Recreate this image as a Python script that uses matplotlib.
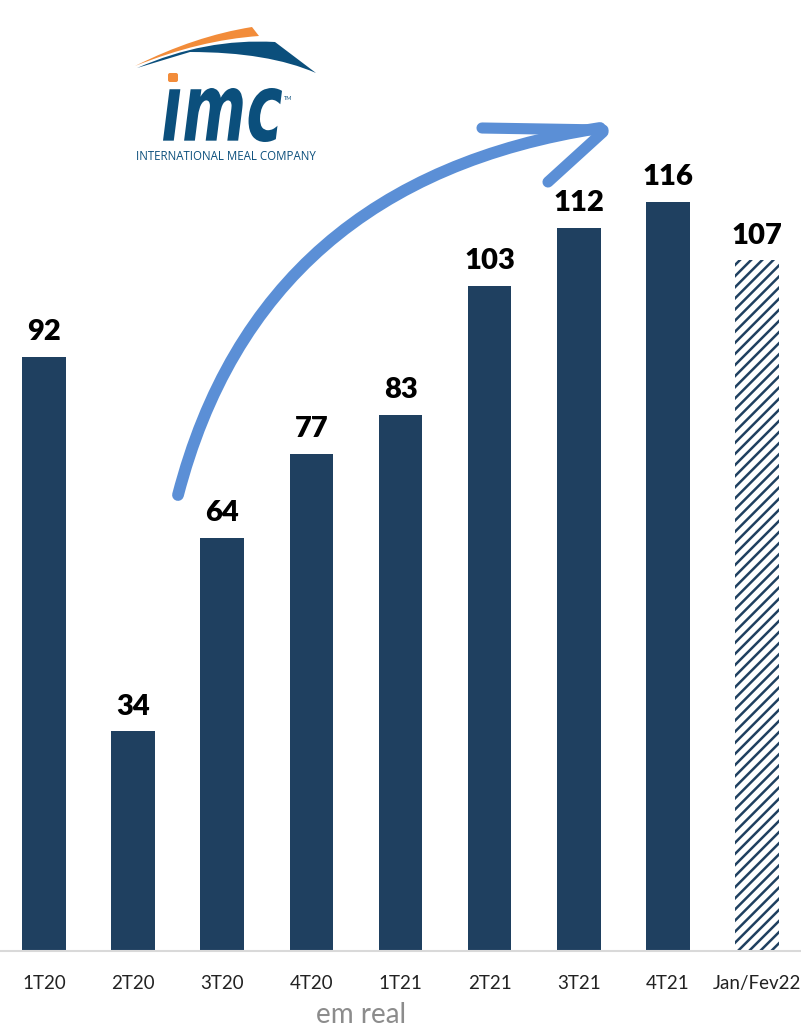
import matplotlib.pyplot as plt
import numpy as np
from matplotlib.path import Path
from matplotlib.patches import PathPatch, FancyBboxPatch
from matplotlib.textpath import TextPath
from matplotlib.font_manager import FontProperties
from matplotlib.transforms import Affine2D

# data
categories = ['1T20', '2T20', '3T20', '4T20', '1T21', '2T21', '3T21', '4T21', 'Jan/Fev22']
values = [92, 34, 64, 77, 83, 103, 112, 116, 107]
hatched = [False] * 8 + [True]

navy = '#1F4060'
plt.rcParams['font.family'] = ['Lato', 'DejaVu Sans']
plt.rcParams['hatch.linewidth'] = 1.8

fig = plt.figure(figsize=(8.01, 10.29), dpi=100)
ax = fig.add_axes([0, 78 / 1029, 1, 951 / 1029])   # bar area, baseline at y=951px

x = np.arange(len(categories))
for xi, v, h in zip(x, values, hatched):
    if h:
        ax.bar(xi, v, width=0.49, color='white', edgecolor=navy, hatch='///', linewidth=0)
    else:
        ax.bar(xi, v, width=0.49, color=navy, linewidth=0)
    ax.annotate(str(v), (xi, v), xytext=(0, 12), textcoords='offset points',
                ha='center', va='baseline', fontsize=21, fontweight='heavy', color='black')

ax.set_xlim(-0.494, 8.494)
ax.set_ylim(0, 147.3)
ax.axhline(0, color='#d9d9d9', linewidth=1.5, clip_on=False)
for s in ax.spines.values():
    s.set_visible(False)
ax.set_yticks([])
ax.set_xticks(x)
ax.set_xticklabels(categories, fontsize=13.5, color='#222222')
ax.tick_params(axis='x', length=0, pad=17)

fig.text(361 / 801, 1 - 1015 / 1029, 'em real', ha='center', va='center', fontsize=20, color='#8c8c8c')

# overlay in pixel coordinates for logo and arrow
ov = fig.add_axes([0, 0, 1, 1])
ov.set_xlim(0, 801)
ov.set_ylim(1029, 0)
ov.axis('off')
ov.patch.set_visible(False)

# hand-drawn style arrow
p0, c, p2 = (178, 495), (260, 180), (600, 128)
arrow_blue = '#5B8FD6'
shaft = Path([p0, c, p2], [Path.MOVETO, Path.CURVE3, Path.CURVE3])
ov.add_patch(PathPatch(shaft, fill=False, edgecolor=arrow_blue, linewidth=8.5, capstyle='round'))
ov.plot([482, 603], [128, 130], color=arrow_blue, linewidth=8, solid_capstyle='round')
ov.plot([548, 603], [182, 132], color=arrow_blue, linewidth=8, solid_capstyle='round')

# logo
orange = '#F28C3A'
logo_blue = '#0B4F7C'
swoosh_o = Path([(135, 66), (195, 36), (252, 27), (259, 36), (200, 40), (135, 66), (135, 66)],
                [Path.MOVETO, Path.CURVE3, Path.CURVE3, Path.LINETO, Path.CURVE3, Path.CURVE3, Path.CLOSEPOLY])
swoosh_b = Path([(137, 68), (205, 38), (275, 42), (316, 73), (268, 52), (190, 52), (137, 68), (137, 68)],
                [Path.MOVETO, Path.CURVE3, Path.CURVE3, Path.LINETO, Path.CURVE3, Path.CURVE3, Path.LINETO, Path.CLOSEPOLY])
ov.add_patch(PathPatch(swoosh_o, facecolor=orange, edgecolor='none'))
ov.add_patch(PathPatch(swoosh_b, facecolor=logo_blue, edgecolor='none'))

tp = TextPath((0, 0), '\u0131mc', size=100,
              prop=FontProperties(family='DejaVu Sans', weight='bold', style='italic'))
ext = tp.get_extents()
sx = (282 - 163) / ext.width
sy = (142 - 88) / ext.height
tr = Affine2D().translate(-ext.x0, -ext.y0).scale(sx, -sy).translate(163, 142)
ov.add_patch(PathPatch(tr.transform_path(tp), facecolor=logo_blue, edgecolor='none'))
ov.add_patch(FancyBboxPatch((168, 73), 10, 9, boxstyle='round,pad=0,rounding_size=2',
                            facecolor=orange, edgecolor='none'))
ov.text(284, 98, 'TM', fontsize=4, color=logo_blue, ha='left', va='center')
ov.text(226, 157, 'INTERNATIONAL MEAL COMPANY', fontsize=8.3, color=logo_blue,
        ha='center', va='center', family='Open Sans')

fig.savefig('out.png', dpi=100, facecolor='white')
